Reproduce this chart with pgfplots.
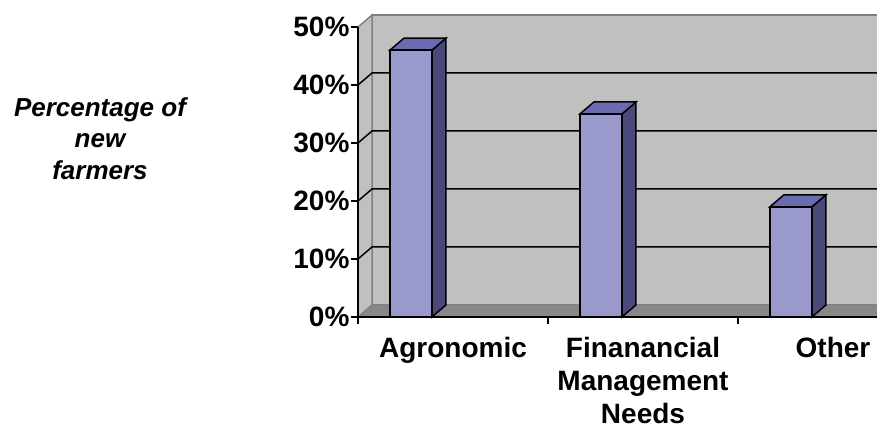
\documentclass[border=0pt]{standalone}
\usepackage{pgfplots}
\pgfplotsset{compat=1.18}
\usepackage{fontspec}
\setmainfont{Liberation Sans}
\definecolor{wall}{RGB}{192,192,192}
\definecolor{walledge}{RGB}{128,128,128}
\definecolor{floorc}{RGB}{136,136,136}
\definecolor{barfront}{RGB}{153,153,204}
\definecolor{bartop}{RGB}{107,107,179}
\definecolor{barside}{RGB}{74,74,122}
\begin{document}
\begin{tikzpicture}
\useasboundingbox (0,0) rectangle (877pt,428pt);
\clip (0,0) rectangle (877pt,428pt);
\begin{axis}[
  at={(358pt,111pt)}, anchor=origin,
  x=190pt, y=5.8pt,
  xmin=0, xmax=3, ymin=0, ymax=50,
  enlargelimits=false, clip=false, axis on top=true,
  axis x line=bottom, axis y line=left,
  axis line style={-, black, line width=1.5pt},
  every outer x axis line/.append style={-},
  every outer y axis line/.append style={-},
  tick align=outside, major tick length=7pt,
  tick style={black, line width=1.5pt},
  xtick={0,1,2,3}, xticklabels={},
  extra x ticks={0.5,1.5,2.5},
  extra x tick labels={Agronomic,{Finanancial\\Management\\Needs},Other},
  extra x tick style={major tick length=0pt, tick style={draw=none},
    xticklabel style={align=center, yshift=-17pt}},
  ytick={0,10,20,30,40,50},
  yticklabels={0\%,10\%,20\%,30\%,40\%,50\%},
  yticklabel style={xshift=2pt},
  tick label style={font=\fontsize{28}{33}\selectfont\bfseries},
  ylabel={Percentage of\\new\\farmers},
  every axis y label/.style={at={(rel axis cs:-0.4526,0.615)}, anchor=center,
    align=center, font=\fontsize{26}{31.5}\selectfont\bfseries\itshape},
]
% back wall
\addplot[fill=wall, draw=walledge, line width=1.5pt] coordinates {(0.0737,2.07)(3.0737,2.07)(3.0737,52.07)(0.0737,52.07)} -- cycle;
% side wall
\addplot[fill=wall, draw=walledge, line width=1.5pt] coordinates {(0,0)(0.0737,2.07)(0.0737,52.07)(0,50)} -- cycle;
% floor
\addplot[fill=floorc, draw=walledge, line width=1pt] coordinates {(0,0)(3,0)(3.0737,2.07)(0.0737,2.07)} -- cycle;
% gridlines
\addplot[black, line width=1.5pt] coordinates {(0,10)(0.0737,12.07)(3.0737,12.07)};
\addplot[black, line width=1.5pt] coordinates {(0,20)(0.0737,22.07)(3.0737,22.07)};
\addplot[black, line width=1.5pt] coordinates {(0,30)(0.0737,32.07)(3.0737,32.07)};
\addplot[black, line width=1.5pt] coordinates {(0,40)(0.0737,42.07)(3.0737,42.07)};
% bar sides and tops
\addplot[fill=barside, draw=black, line width=1.5pt] coordinates {(0.389,0)(0.4627,2.07)(0.4627,48.07)(0.389,46)} -- cycle;
\addplot[fill=bartop, draw=black, line width=1.5pt] coordinates {(0.168,46)(0.2417,48.07)(0.4627,48.07)(0.389,46)} -- cycle;
\addplot[fill=barside, draw=black, line width=1.5pt] coordinates {(1.389,0)(1.4627,2.07)(1.4627,37.07)(1.389,35)} -- cycle;
\addplot[fill=bartop, draw=black, line width=1.5pt] coordinates {(1.168,35)(1.2417,37.07)(1.4627,37.07)(1.389,35)} -- cycle;
\addplot[fill=barside, draw=black, line width=1.5pt] coordinates {(2.389,0)(2.4627,2.07)(2.4627,21.07)(2.389,19)} -- cycle;
\addplot[fill=bartop, draw=black, line width=1.5pt] coordinates {(2.168,19)(2.2417,21.07)(2.4627,21.07)(2.389,19)} -- cycle;
% bar fronts
\addplot[ybar, bar width=42pt, bar shift=-42pt, fill=barfront, draw=black, line width=1.5pt]
  coordinates {(0.5,46)(1.5,35)(2.5,19)};
\end{axis}
\end{tikzpicture}
\end{document}
